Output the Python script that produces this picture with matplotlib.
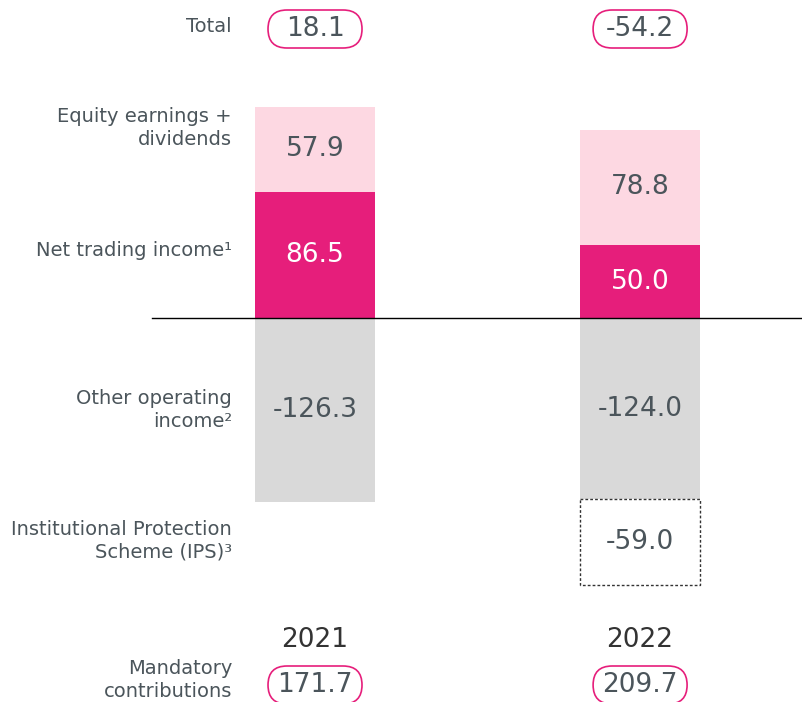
import numpy as np
import matplotlib.pyplot as plt
from matplotlib.patches import FancyBboxPatch
from matplotlib.transforms import ScaledTranslation, blended_transform_factory

plt.rcParams['font.family'] = ['DejaVu Sans']

# Data
years = ['2021', '2022']
net_trading = [86.5, 50.0]
equity = [57.9, 78.8]
other_op = [-126.3, -124.0]
ips = [np.nan, -59.0]
totals = [18.1, -54.2]
mandatory = [171.7, 209.7]

row_labels = ['Total', 'Equity earnings +\ndividends', 'Net trading income\u00b9',
              'Other operating\nincome\u00b2', 'Institutional Protection\nScheme (IPS)\u00b3',
              'Mandatory\ncontributions']

magenta = '#E61E7B'
pink = '#FDD8E2'
grey = '#D9D9D9'
txt = '#4B555B'

fig = plt.figure(figsize=(8.02, 7.02), dpi=100)
ax = fig.add_axes([0, 0, 1, 1])
x = np.arange(len(years))
w = 0.37

b1 = ax.bar(x, net_trading, w, color=magenta)
b2 = ax.bar(x, equity, w, bottom=net_trading, color=pink)
b3 = ax.bar(x, other_op, w, color=grey)
ips_x = [i for i in x if not np.isnan(ips[i])]
ips_v = [ips[i] for i in ips_x]
ips_bottom = [other_op[i] for i in ips_x]
b4 = ax.bar(ips_x, ips_v, w, bottom=ips_bottom, facecolor='white',
            edgecolor='#333333', linestyle=(0, (2, 1.5)), linewidth=1)

ax.bar_label(b1, fmt='%.1f', label_type='center', color='white', fontsize=19)
ax.bar_label(b2, fmt='%.1f', label_type='center', color=txt, fontsize=19)
ax.bar_label(b3, fmt='%.1f', label_type='center', color=txt, fontsize=19)
ax.bar_label(b4, fmt='%.1f', label_type='center', color=txt, fontsize=19)

ax.set_xlim(-0.969, 1.498)
ax.set_ylim(-263, 217.8)
ax.axhline(0, xmin=152 / 802, xmax=1, color='black', lw=1)
ax.axis('off')

# totals, years, mandatory contributions
bt = blended_transform_factory(ax.transData, ax.transAxes)


def pill(xpos, ypos, value):
    tr = fig.dpi_scale_trans + ScaledTranslation(xpos, ypos, bt)
    ax.add_patch(FancyBboxPatch((-0.47, -0.19), 0.94, 0.38,
                                boxstyle='round,pad=0,rounding_size=0.19',
                                transform=tr, facecolor='white',
                                edgecolor=magenta, lw=1.2, clip_on=False))
    ax.text(xpos, ypos, f'{value:.1f}', transform=bt, ha='center', va='center',
            color=txt, fontsize=19)


for i in x:
    pill(i, 1 - 29 / 702, totals[i])
    pill(i, 1 - 685 / 702, mandatory[i])
    ax.text(i, 1 - 640 / 702, years[i], transform=bt, ha='center', va='center',
            color='#333333', fontsize=19)

# row labels on the left
label_y = [27, 128, 250, 410, 541, 680]
for lab, yy in zip(row_labels, label_y):
    ax.text(232 / 802, 1 - yy / 702, lab, transform=ax.transAxes, ha='right',
            va='center', color=txt, fontsize=14, linespacing=1.25)

fig.savefig('out.png', dpi=100)
